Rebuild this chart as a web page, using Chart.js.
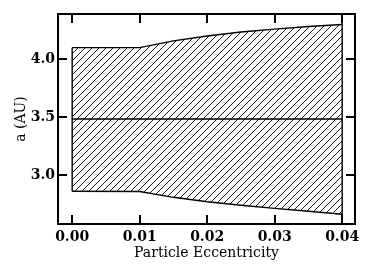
<!DOCTYPE html>
<html>
<head>
<meta charset="utf-8">
<script src="https://cdn.jsdelivr.net/npm/chart.js@4.4.0/dist/chart.umd.min.js"></script>
<style>
html,body{margin:0;padding:0;background:#fff;}
#c{display:block;}
</style>
</head>
<body>
<canvas id="c" width="374" height="276"></canvas>
<script>
// Data
const eccentricity = [0.00, 0.01, 0.015, 0.02, 0.025, 0.03, 0.035, 0.04];
const upperA = [4.10, 4.10, 4.158, 4.20, 4.235, 4.26, 4.282, 4.30];
const lowerA = [2.862, 2.86, 2.81, 2.772, 2.742, 2.715, 2.69, 2.664];
const centerA = 3.485;
const xTicks = [0.00, 0.01, 0.02, 0.03, 0.04];
const yTicks = [3.0, 3.5, 4.0];
const xRange = [-0.0021, 0.0419];
const yRange = [2.58, 4.39];

function hatchPattern() {
  const s = 7;
  const c = document.createElement('canvas');
  c.width = s; c.height = s;
  const g = c.getContext('2d');
  g.strokeStyle = '#000';
  g.lineWidth = 0.9;
  g.beginPath();
  g.moveTo(0, s); g.lineTo(s, 0);
  g.moveTo(-1, 1); g.lineTo(1, -1);
  g.moveTo(s - 1, s + 1); g.lineTo(s + 1, s - 1);
  g.stroke();
  return g.createPattern(c, 'repeat');
}

const pts = (xs, ys) => xs.map((x, i) => ({x: x, y: ys[i]}));
const first = eccentricity[0];
const last = eccentricity[eccentricity.length - 1];

const frameTicks = {
  id: 'frameTicks',
  afterDraw(chart) {
    const {ctx, chartArea: a, scales: {x, y}} = chart;
    ctx.save();
    ctx.strokeStyle = '#000';
    ctx.lineWidth = 2;
    ctx.strokeRect(a.left, a.top, a.right - a.left, a.bottom - a.top);
    const L = 9;
    ctx.beginPath();
    xTicks.forEach(v => {
      const px = Math.round(x.getPixelForValue(v));
      ctx.moveTo(px, a.bottom); ctx.lineTo(px, a.bottom - L);
      ctx.moveTo(px, a.top); ctx.lineTo(px, a.top + L);
    });
    yTicks.forEach(v => {
      const py = Math.round(y.getPixelForValue(v));
      ctx.moveTo(a.left, py); ctx.lineTo(a.left + L, py);
      ctx.moveTo(a.right, py); ctx.lineTo(a.right - L, py);
    });
    ctx.stroke();
    ctx.restore();
  }
};

const lineBase = {showLine: true, pointRadius: 0, borderColor: '#000', borderWidth: 1.4, tension: 0, fill: false};

new Chart(document.getElementById('c'), {
  type: 'scatter',
  data: {
    datasets: [
      Object.assign({}, lineBase, {label: 'upper', data: pts(eccentricity, upperA), fill: '+1', backgroundColor: hatchPattern()}),
      Object.assign({}, lineBase, {label: 'lower', data: pts(eccentricity, lowerA)}),
      Object.assign({}, lineBase, {label: 'left edge', data: [{x: first, y: lowerA[0]}, {x: first, y: upperA[0]}]}),
      Object.assign({}, lineBase, {label: 'right edge', data: [{x: last, y: yRange[0]}, {x: last, y: yRange[1]}]}),
      Object.assign({}, lineBase, {label: 'center', data: [{x: first, y: centerA}, {x: last, y: centerA}]})
    ]
  },
  options: {
    responsive: false,
    animation: false,
    devicePixelRatio: 1,
    layout: {padding: {top: 14, right: 19, left: 0, bottom: 0}},
    plugins: {legend: {display: false}, tooltip: {enabled: false}},
    scales: {
      x: {
        type: 'linear',
        min: xRange[0], max: xRange[1],
        afterBuildTicks: s => { s.ticks = xTicks.map(v => ({value: v})); },
        afterFit: s => { s.height = 52; },
        grid: {display: false, drawTicks: false},
        border: {display: false},
        ticks: {
          color: '#000', padding: 5, maxRotation: 0, autoSkip: false,
          font: {family: 'DejaVu Serif', size: 14, weight: 'bold'},
          callback: v => Number(v).toFixed(2)
        },
        title: {display: true, text: 'Particle Eccentricity', color: '#000',
          font: {family: 'DejaVu Serif', size: 14}, padding: {top: 0, bottom: 14}}
      },
      y: {
        type: 'linear',
        min: yRange[0], max: yRange[1],
        afterBuildTicks: s => { s.ticks = yTicks.map(v => ({value: v})); },
        afterFit: s => { s.width = 58; },
        grid: {display: false, drawTicks: false},
        border: {display: false},
        ticks: {
          color: '#000', padding: 3,
          font: {family: 'DejaVu Serif', size: 14, weight: 'bold'},
          callback: v => Number(v).toFixed(1)
        },
        title: {display: true, text: 'a (AU)', color: '#000',
          font: {family: 'DejaVu Serif', size: 14}, padding: {top: 13, bottom: 0}}
      }
    }
  },
  plugins: [frameTicks]
});
</script>
</body>
</html>
